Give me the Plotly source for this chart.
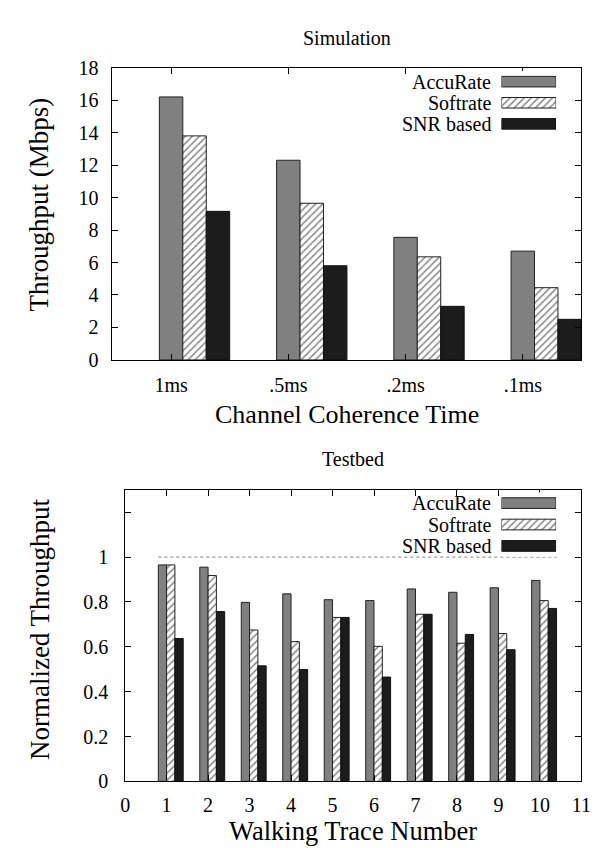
import plotly.graph_objects as go

# ---------------- data ----------------
coherence_labels = ["1ms", ".5ms", ".2ms", ".1ms"]
sim_accurate = [16.2, 12.3, 7.55, 6.7]
sim_softrate = [13.8, 9.65, 6.35, 4.45]
sim_snr = [9.15, 5.8, 3.3, 2.5]

trace_numbers = [1, 2, 3, 4, 5, 6, 7, 8, 9, 10]
tb_accurate = [0.965, 0.955, 0.798, 0.836, 0.81, 0.806, 0.858, 0.843, 0.863, 0.896]
tb_softrate = [0.965, 0.918, 0.675, 0.623, 0.731, 0.602, 0.745, 0.616, 0.659, 0.806]
tb_snr = [0.637, 0.757, 0.515, 0.499, 0.731, 0.465, 0.745, 0.655, 0.587, 0.771]

series_names = ["AccuRate", "Softrate", "SNR based"]
ref_level = 1.0

y_top_ticks = [0, 2, 4, 6, 8, 10, 12, 14, 16, 18]
y_bot_ticks = [0, 0.2, 0.4, 0.6, 0.8, 1.0, 1.2]
y_bot_ticktext = ["0", "0.2", "0.4", "0.6", "0.8", "1", ""]
x_bot_ticks = list(range(0, 12))

# ---------------- style ----------------
W, H = 600, 848
FONT = "Liberation Serif"
GRAY = "#808080"
DARK = "#1c1c1c"
TICK_SIZE = 20


def px(x):
    return x / W


def py(y):
    return 1 - y / H


styles = {
    "AccuRate": dict(color=GRAY, line=dict(color="#222222", width=1)),
    "Softrate": dict(color="white",
                     pattern=dict(shape="/", fgcolor="#111111", bgcolor="white",
                                  size=5, solidity=0.3),
                     line=dict(color="#222222", width=1)),
    "SNR based": dict(color=DARK, line=dict(color="#111111", width=1)),
}

fig = go.Figure()

# ---- top chart (Simulation) ----
top_offsets = {"AccuRate": -0.1, "Softrate": 0.1, "SNR based": 0.3}
for name, vals in zip(series_names, [sim_accurate, sim_softrate, sim_snr]):
    fig.add_trace(go.Bar(x=coherence_labels, y=vals, name=name, width=0.2,
                         offset=top_offsets[name], marker=styles[name],
                         xaxis="x", yaxis="y", showlegend=False))

# ---- bottom chart (Testbed) ----
bot_offsets = {"AccuRate": -0.2, "Softrate": 0.0, "SNR based": 0.2}
for name, vals in zip(series_names, [tb_accurate, tb_softrate, tb_snr]):
    fig.add_trace(go.Bar(x=trace_numbers, y=vals, name=name, width=0.2,
                         offset=bot_offsets[name], marker=styles[name],
                         xaxis="x2", yaxis="y2", showlegend=False))

# reference line at 1 spanning bar groups
line_x = [min(trace_numbers) - 0.2, max(trace_numbers) + 0.4]
fig.add_trace(go.Scatter(x=line_x, y=[ref_level, ref_level], mode="lines",
                         line=dict(color="#999999", width=1.2, dash="dot"),
                         xaxis="x2", yaxis="y2", showlegend=False, hoverinfo="skip"))

# ---- custom legends (samples on auxiliary axes) ----
for ax in ["3", "4"]:
    for name in series_names:
        fig.add_trace(go.Bar(y=[name], x=[1], orientation="h", width=0.5,
                             marker=styles[name], xaxis="x" + ax, yaxis="y" + ax,
                             showlegend=False, hoverinfo="skip"))

axis_common = dict(showline=True, linecolor="black", linewidth=1, mirror="allticks",
                   ticks="inside", ticklen=6, tickcolor="black", showgrid=False,
                   zeroline=False, tickfont=dict(family=FONT, size=TICK_SIZE, color="black"))

fig.update_layout(
    width=W, height=H, margin=dict(l=0, r=0, t=0, b=0),
    paper_bgcolor="white", plot_bgcolor="white", barmode="overlay",
    font=dict(family=FONT, color="black"),
    xaxis=dict(domain=[px(102), px(583)], range=[-0.5, 3.5], anchor="y",
               type="category", ticklabelstandoff=7, **axis_common),
    yaxis=dict(domain=[py(350), py(50)], range=[0, 18], tickvals=y_top_ticks,
               anchor="x", ticklabelstandoff=9, **axis_common),
    xaxis2=dict(domain=[px(115), px(583)], range=[0, 11], tickvals=x_bot_ticks,
                anchor="y2", ticklabelstandoff=6, **axis_common),
    yaxis2=dict(domain=[py(782.7), py(483.3)], range=[0, 1.3], tickvals=y_bot_ticks,
                ticktext=y_bot_ticktext, anchor="x2", ticklabelstandoff=12, **axis_common),
    xaxis3=dict(domain=[px(501), px(557)], range=[0, 1], visible=False, anchor="y3"),
    yaxis3=dict(domain=[py(118.5), py(53.5)], range=[2.5, -0.5], visible=False,
                anchor="x3", type="category", categoryarray=series_names),
    xaxis4=dict(domain=[px(501), px(557)], range=[0, 1], visible=False, anchor="y4"),
    yaxis4=dict(domain=[py(552), py(486)], range=[2.5, -0.5], visible=False,
                anchor="x4", type="category", categoryarray=series_names),
)

ann = []
for name in series_names:
    for yr in ["y3", "y4"]:
        ann.append(dict(text=name, x=px(492), xref="paper", xanchor="right",
                        y=name, yref=yr, yanchor="middle", showarrow=False,
                        font=dict(family=FONT, size=20, color="black")))


def label(text, x, y, size, angle=0):
    return dict(text=text, x=px(x), y=py(y), xref="paper", yref="paper",
                xanchor="center", yanchor="middle", textangle=angle,
                showarrow=False, font=dict(family=FONT, size=size, color="black"))


ann += [
    label("Simulation", 342.5, 19, 20),
    label("Testbed", 349, 451.7, 20),
    label("Throughput (Mbps)", 27, 190, 27, -90),
    label("Normalized Throughput", 27, 626, 27, -90),
    label("Channel Coherence Time", 342.5, 406, 26),
    label("Walking Trace Number", 349, 834, 26.5),
]
fig.update_layout(annotations=ann)

fig.write_html("out.html")
